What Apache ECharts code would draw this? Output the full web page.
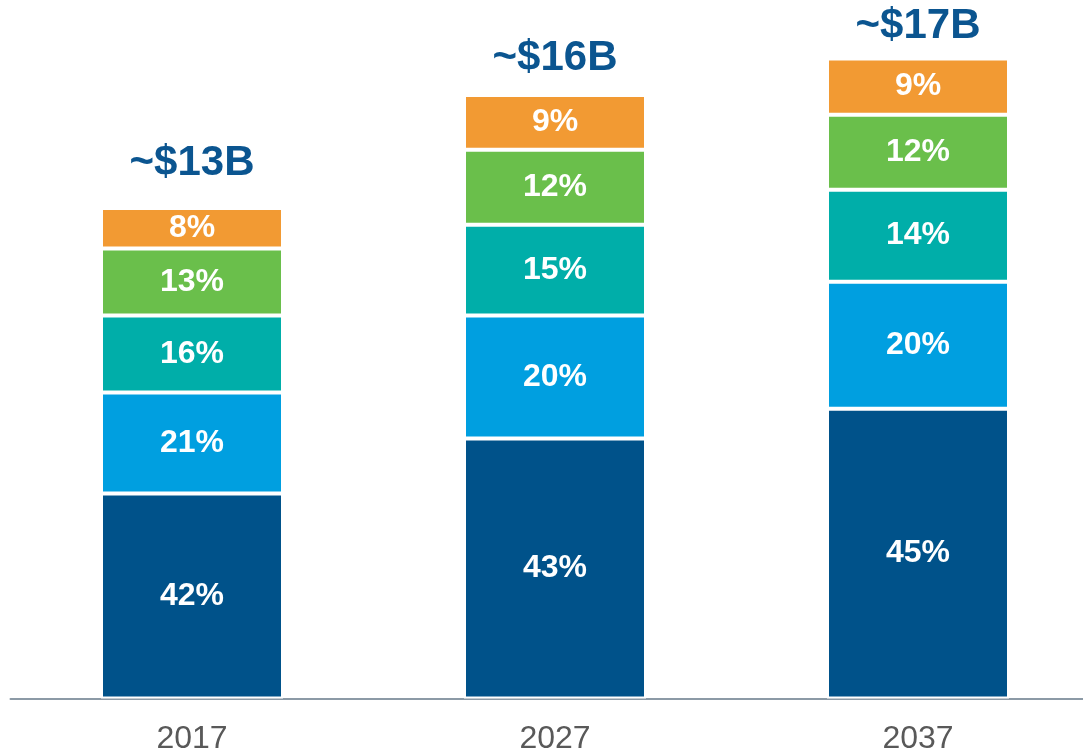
<!DOCTYPE html>
<html>
<head>
<meta charset="utf-8">
<title>Market size</title>
<script src="https://cdn.jsdelivr.net/npm/echarts@6/dist/echarts.min.js"></script>
<style>
  html, body { margin: 0; padding: 0; background: #fff; }
  #chart { width: 1083px; height: 753px; }
</style>
</head>
<body>
<div id="chart"></div>
<script>
// years on the x axis
var years = ['2017', '2027', '2037']
// total market, $B (bar heights)
var totals = [13, 16, 17]
var totalLabels = ['~$13B', '~$16B', '~$17B']

// segment sizes in $B, bottom to top
var segDark = [5.44, 6.90, 7.69]
var segBlue = [2.68, 3.26, 3.37]
var segTeal = [2.04, 2.41, 2.44]
var segGreen = [1.78, 1.99, 1.99]
var segOrange = [1.07, 1.45, 1.49]

// percentage text shown inside each segment
var pctDark = ['42%', '43%', '45%']
var pctBlue = ['21%', '20%', '20%']
var pctTeal = ['16%', '15%', '14%']
var pctGreen = ['13%', '12%', '12%']
var pctOrange = ['8%', '9%', '9%']

var chart = echarts.init(document.getElementById('chart'))

function segment(name, values, pcts, color) {
  return {
    name: name,
    type: 'bar',
    stack: 'total',
    barWidth: 182,
    data: values,
    itemStyle: {
      color: color,
      borderColor: '#ffffff',
      borderWidth: 2
    },
    label: {
      show: true,
      position: 'inside',
      color: '#ffffff',
      fontFamily: 'Liberation Sans, Arial, sans-serif',
      fontWeight: 'bold',
      fontSize: 32,
      formatter: function (p) {
        return pcts[p.dataIndex]
      }
    },
    silent: true
  }
}

// the totals sit a bit closer to the taller bars in the original
var totalGap = [24, 16, 10]

chart.setOption({
  animation: false,
  grid: {
    left: 10.5,
    right: -16.5, // category bands run past the right edge in the original
    top: 20,
    bottom: 54.4,
    outerBoundsMode: 'none'
  },
  xAxis: {
    type: 'category',
    data: years,
    axisTick: { show: false },
    axisLine: {
      lineStyle: { color: '#8c9aa6', width: 2 }
    },
    axisLabel: {
      color: '#595959',
      fontFamily: 'Liberation Sans, Arial, sans-serif',
      fontSize: 32,
      margin: 25
    }
  },
  yAxis: {
    type: 'value',
    min: 0,
    max: 18,
    show: false
  },
  series: [
    segment('dark', segDark, pctDark, '#00528a'),
    segment('blue', segBlue, pctBlue, '#009fe0'),
    segment('teal', segTeal, pctTeal, '#00aea9'),
    segment('green', segGreen, pctGreen, '#6abf4b'),
    segment('orange', segOrange, pctOrange, '#f29a33'),
    {
      // invisible points at the stack tops, only for the totals text
      name: 'total',
      type: 'scatter',
      symbolSize: 0,
      itemStyle: { opacity: 1 },
      data: totals.map(function (v, i) {
        return { value: v, label: { distance: totalGap[i] } }
      }),
      label: {
        show: true,
        position: 'top',
        color: '#0b5590',
        fontFamily: 'Liberation Sans, Arial, sans-serif',
        fontWeight: 'bold',
        fontSize: 42,
        formatter: function (p) {
          return totalLabels[p.dataIndex]
        }
      },
      silent: true
    }
  ]
})
</script>
</body>
</html>
